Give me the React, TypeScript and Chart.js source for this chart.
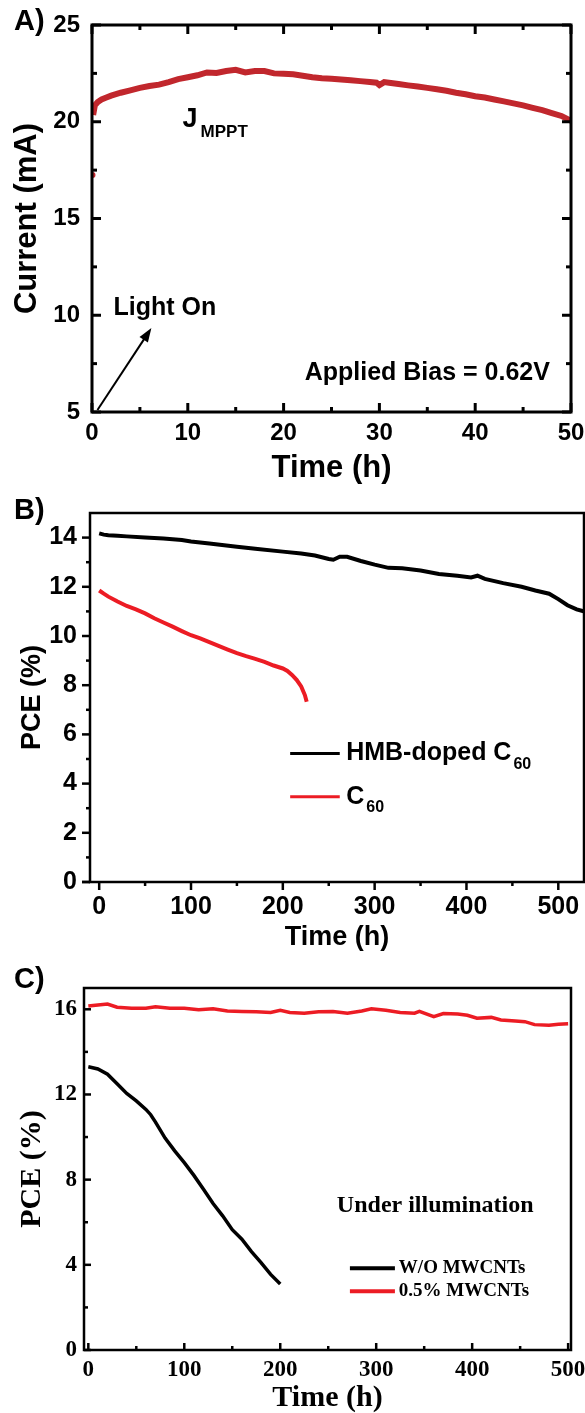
import React, { useEffect, useRef } from 'react';
import { Chart, registerables } from 'chart.js';

Chart.register(...registerables);

const SANS = '"Liberation Sans", Arial, sans-serif';
const SERIF = '"Liberation Serif", "Times New Roman", serif';

// ---------- Panel A : J_MPPT vs time ----------
const A_TIME = [0.05, 0.08, 0.12, 0.3, 0.6, 1, 1.5, 2, 3, 4, 5, 6, 7, 8, 9, 10, 11, 12, 13, 14, 15, 16, 17, 18, 19, 20, 21, 22, 23, 24, 25, 26, 27, 28, 29, 29.7, 30, 30.5, 31, 32, 33, 34, 35, 36, 37, 38, 39, 40, 41, 42, 43, 44, 45, 46, 47, 48, 49, 50];
const A_CURRENT = [17.25, null, 20.35, 20.85, 21.02, 21.15, 21.25, 21.35, 21.5, 21.62, 21.75, 21.85, 21.92, 22.05, 22.2, 22.3, 22.4, 22.55, 22.52, 22.62, 22.68, 22.55, 22.62, 22.62, 22.5, 22.48, 22.45, 22.38, 22.3, 22.25, 22.22, 22.18, 22.15, 22.1, 22.05, 22.02, 21.9, 22.05, 22.02, 21.95, 21.88, 21.82, 21.75, 21.68, 21.6, 21.5, 21.42, 21.32, 21.25, 21.15, 21.05, 20.95, 20.85, 20.72, 20.6, 20.45, 20.3, 20.05];
const A_X_TICKS = [0, 10, 20, 30, 40, 50];
const A_X_MINOR = [5, 15, 25, 35, 45];
const A_Y_TICKS = [5, 10, 15, 20, 25];
const A_Y_MINOR = [7.5, 12.5, 17.5, 22.5];

// ---------- Panel B : PCE, HMB-doped C60 vs C60 ----------
const B_TIME_HMB = [0, 5, 10, 20, 30, 50, 70, 90, 100, 120, 150, 170, 200, 220, 235, 250, 255, 262, 270, 285, 300, 315, 330, 350, 370, 390, 405, 412, 420, 440, 460, 475, 490, 500, 510, 520, 530];
const B_PCE_HMB = [14.17, 14.12, 14.1, 14.08, 14.05, 14.0, 13.96, 13.9, 13.84, 13.76, 13.63, 13.55, 13.43, 13.35, 13.27, 13.13, 13.1, 13.22, 13.22, 13.05, 12.9, 12.77, 12.75, 12.66, 12.52, 12.45, 12.38, 12.45, 12.32, 12.15, 12.0, 11.85, 11.72, 11.5, 11.25, 11.08, 10.98];
const B_TIME_C60 = [0, 5, 10, 20, 30, 40, 50, 60, 70, 80, 90, 100, 110, 120, 130, 140, 150, 160, 170, 180, 190, 200, 205, 210, 215, 220, 224, 226];
const B_PCE_C60 = [11.85, 11.72, 11.6, 11.4, 11.22, 11.08, 10.92, 10.72, 10.55, 10.38, 10.2, 10.03, 9.9, 9.75, 9.6, 9.45, 9.3, 9.18, 9.07, 8.95, 8.8, 8.68, 8.58, 8.42, 8.22, 7.95, 7.6, 7.33];
const B_X_TICKS = [0, 100, 200, 300, 400, 500];
const B_X_MINOR = [50, 150, 250, 350, 450];
const B_Y_TICKS = [0, 2, 4, 6, 8, 10, 12, 14];
const B_Y_MINOR = [1, 3, 5, 7, 9, 11, 13];

// ---------- Panel C : PCE with / without MWCNTs ----------
const C_TIME_WO = [0, 10, 20, 30, 40, 50, 60, 65, 70, 80, 90, 100, 110, 120, 130, 140, 150, 160, 170, 180, 190, 200];
const C_PCE_WO = [13.3, 13.2, 12.95, 12.5, 12.05, 11.7, 11.3, 11.05, 10.7, 9.95, 9.35, 8.8, 8.2, 7.55, 6.88, 6.3, 5.65, 5.2, 4.62, 4.1, 3.55, 3.1];
const C_TIME_MW = [0, 10, 20, 30, 45, 60, 70, 85, 100, 115, 130, 145, 160, 175, 190, 200, 210, 225, 240, 255, 270, 285, 295, 310, 325, 340, 345, 360, 370, 385, 395, 405, 420, 430, 445, 455, 465, 480, 490, 500];
const C_PCE_MW = [16.15, 16.2, 16.25, 16.1, 16.05, 16.05, 16.12, 16.05, 16.05, 15.98, 16.02, 15.92, 15.9, 15.88, 15.85, 15.95, 15.85, 15.82, 15.88, 15.9, 15.82, 15.92, 16.02, 15.95, 15.85, 15.82, 15.9, 15.65, 15.8, 15.78, 15.72, 15.58, 15.62, 15.5, 15.45, 15.42, 15.28, 15.25, 15.3, 15.32];
const C_X_TICKS = [0, 100, 200, 300, 400, 500];
const C_X_MINOR = [50, 150, 250, 350, 450];
const C_Y_TICKS = [0, 4, 8, 12, 16];
const C_Y_MINOR = [2, 6, 10, 14];

function zip(xs: number[], ys: (number | null)[]) {
  return xs.map((x, i) => ({ x, y: ys[i] }));
}

function font(family: string, size: number) {
  return { family, size, weight: 'bold' as const };
}

function axis(p: {
  min: number; max: number; major: number[]; fam: string; tickSize: number; tickPad: number;
  title: string; titleSize: number; titlePad: any; size: number; horizontal: boolean;
}) {
  return {
    type: 'linear',
    min: p.min,
    max: p.max,
    grid: { display: false, drawTicks: false },
    border: { display: false },
    ticks: {
      autoSkip: false, maxRotation: 0, minRotation: 0, includeBounds: false,
      padding: p.tickPad, color: '#000', font: font(p.fam, p.tickSize),
      callback: (v: any) => String(v),
    },
    afterBuildTicks: (s: any) => { s.ticks = p.major.map((v) => ({ value: v })); },
    title: { display: true, text: p.title, color: '#000', font: font(p.fam, p.titleSize), padding: p.titlePad },
    afterFit: (s: any) => {
      if (p.horizontal) s.height = p.size; else s.width = p.size;
      s.paddingLeft = 0; s.paddingRight = 0; s.paddingTop = 0; s.paddingBottom = 0;
    },
  };
}

function framePlugin(o: {
  xMajor: number[]; xMinor: number[]; yMajor: number[]; yMinor: number[];
  major: number; minor: number; inward: boolean; mirror: boolean; width: number; tickWidth: number; extendLeft?: number;
}) {
  return {
    id: 'frame',
    afterDatasetsDraw(chart: any) {
      const { ctx, chartArea } = chart;
      const { left, right, top, bottom } = chartArea;
      const xs = chart.scales.x;
      const ys = chart.scales.y;
      const d = o.inward ? -1 : 1;
      ctx.save();
      ctx.strokeStyle = '#000';
      ctx.lineWidth = o.width;
      ctx.strokeRect(left, top, right - left, bottom - top);
      const seg = (x1: number, y1: number, x2: number, y2: number) => {
        ctx.beginPath(); ctx.moveTo(x1, y1); ctx.lineTo(x2, y2); ctx.stroke();
      };
      if (o.extendLeft) seg(left - o.extendLeft, bottom, left, bottom);
      ctx.lineWidth = o.tickWidth;
      const xt = (v: number, len: number) => {
        const p = xs.getPixelForValue(v);
        seg(p, bottom, p, bottom + d * len);
        if (o.mirror) seg(p, top, p, top - d * len);
      };
      const yt = (v: number, len: number) => {
        const p = ys.getPixelForValue(v);
        seg(left, p, left - d * len, p);
        if (o.mirror) seg(right, p, right + d * len, p);
      };
      o.xMajor.forEach((v) => xt(v, o.major));
      o.xMinor.forEach((v) => xt(v, o.minor));
      o.yMajor.forEach((v) => yt(v, o.major));
      o.yMinor.forEach((v) => yt(v, o.minor));
      ctx.restore();
    },
  };
}

function text(ctx: any, s: string, x: number, y: number, f: string, align: string = 'left', color = '#000') {
  ctx.font = f;
  ctx.textAlign = align;
  ctx.textBaseline = 'middle';
  ctx.fillStyle = color;
  ctx.fillText(s, x, y);
  return ctx.measureText(s).width;
}

function px(chart: any, x: number, y: number) {
  return [chart.scales.x.getPixelForValue(x), chart.scales.y.getPixelForValue(y)];
}

const baseOptions = (padding: any) => ({
  responsive: false,
  animation: false as const,
  events: [] as any[],
  layout: { padding },
  plugins: { legend: { display: false }, tooltip: { enabled: false } },
});

function configA(): any {
  const notes = {
    id: 'notesA',
    afterDraw(chart: any) {
      const ctx = chart.ctx;
      ctx.save();
      text(ctx, 'A)', 14, 22, `bold 29px ${SANS}`);
      let [x, y] = px(chart, 9.45, 20.1);
      const w = text(ctx, 'J', x, y, `bold 27px ${SANS}`);
      text(ctx, 'MPPT', x + w + 3, y + 12, `bold 17px ${SANS}`);
      [x, y] = px(chart, 2.25, 10.37);
      text(ctx, 'Light On', x, y, `bold 25px ${SANS}`);
      [x, y] = px(chart, 47.8, 7.02);
      text(ctx, 'Applied Bias = 0.62V', x, y, `bold 25px ${SANS}`, 'right');
      const [x1, y1] = px(chart, 0.57, 5.1);
      const [x2, y2] = px(chart, 6.2, 9.34);
      const ang = Math.atan2(y2 - y1, x2 - x1);
      ctx.strokeStyle = '#000';
      ctx.fillStyle = '#000';
      ctx.lineWidth = 2;
      ctx.beginPath();
      ctx.moveTo(x1, y1);
      ctx.lineTo(x2 - 10 * Math.cos(ang), y2 - 10 * Math.sin(ang));
      ctx.stroke();
      ctx.beginPath();
      ctx.moveTo(x2, y2);
      ctx.lineTo(x2 - 14 * Math.cos(ang) + 5 * Math.sin(ang), y2 - 14 * Math.sin(ang) - 5 * Math.cos(ang));
      ctx.lineTo(x2 - 14 * Math.cos(ang) - 5 * Math.sin(ang), y2 - 14 * Math.sin(ang) + 5 * Math.cos(ang));
      ctx.closePath();
      ctx.fill();
      ctx.restore();
    },
  };
  const data = zip(A_TIME, A_CURRENT);
  return {
    type: 'scatter',
    data: {
      datasets: [
        {
          label: 'J_MPPT', data, showLine: true, spanGaps: false, borderColor: '#c1272d', borderWidth: 6,
          pointRadius: (c: any) => (c.dataIndex === 0 ? 3 : 0), pointBackgroundColor: '#c1272d', pointBorderWidth: 0,
        },
        { label: 'J_MPPT inner', data, showLine: true, spanGaps: false, borderColor: '#dc5a5e', borderWidth: 1.5, pointRadius: 0 },
      ],
    },
    options: {
      ...baseOptions({ left: 0, top: 25, right: 14, bottom: 0 }),
      scales: {
        x: axis({ min: 0, max: 50, major: A_X_TICKS, fam: SANS, tickSize: 24, tickPad: 7, title: 'Time (h)', titleSize: 31, titlePad: { top: 0, bottom: 13 }, size: 88, horizontal: true }),
        y: axis({ min: 5, max: 25, major: A_Y_TICKS, fam: SANS, tickSize: 24, tickPad: 12, title: 'Current (mA)', titleSize: 31, titlePad: { top: 9, bottom: 0 }, size: 92, horizontal: false }),
      },
    },
    plugins: [
      framePlugin({ xMajor: A_X_TICKS, xMinor: A_X_MINOR, yMajor: A_Y_TICKS, yMinor: A_Y_MINOR, major: 9, minor: 5, inward: true, mirror: true, width: 3, tickWidth: 3 }),
      notes,
    ],
  };
}

function configB(): any {
  const notes = {
    id: 'notesB',
    afterDraw(chart: any) {
      const ctx = chart.ctx;
      ctx.save();
      text(ctx, 'B)', 14, 31, `bold 29px ${SANS}`);
      const legend = [
        { y: 5.22, color: '#000', main: 'HMB-doped C', sub: '60' },
        { y: 3.47, color: '#ec1c24', main: 'C', sub: '60' },
      ];
      legend.forEach((l) => {
        const [a, yy] = px(chart, 208, l.y);
        const [b] = px(chart, 262, l.y);
        ctx.strokeStyle = l.color;
        ctx.lineWidth = 3;
        ctx.beginPath(); ctx.moveTo(a, yy); ctx.lineTo(b, yy); ctx.stroke();
        const [tx] = px(chart, 269, l.y);
        const w = text(ctx, l.main, tx, yy, `bold 25px ${SANS}`);
        text(ctx, l.sub, tx + w + 2, yy + 11, `bold 16px ${SANS}`);
      });
      ctx.restore();
    },
  };
  return {
    type: 'scatter',
    data: {
      datasets: [
        { label: 'HMB-doped C60', data: zip(B_TIME_HMB, B_PCE_HMB), showLine: true, borderColor: '#000', borderWidth: 4, pointRadius: 0 },
        { label: 'C60', data: zip(B_TIME_C60, B_PCE_C60), showLine: true, borderColor: '#ec1c24', borderWidth: 4, pointRadius: 0 },
      ],
    },
    options: {
      ...baseOptions({ left: 0, top: 33, right: 1, bottom: 0 }),
      scales: {
        x: axis({ min: -10, max: 528, major: B_X_TICKS, fam: SANS, tickSize: 25, tickPad: 10, title: 'Time (h)', titleSize: 27, titlePad: { top: 0, bottom: 6 }, size: 78, horizontal: true }),
        y: axis({ min: 0, max: 15, major: B_Y_TICKS, fam: SANS, tickSize: 25, tickPad: 13, title: 'PCE (%)', titleSize: 27, titlePad: { top: 16, bottom: 0 }, size: 90, horizontal: false }),
      },
    },
    plugins: [
      framePlugin({ xMajor: B_X_TICKS, xMinor: B_X_MINOR, yMajor: B_Y_TICKS, yMinor: B_Y_MINOR, major: 8, minor: 4, inward: false, mirror: false, width: 2.5, tickWidth: 2.5, extendLeft: 8 }),
      notes,
    ],
  };
}

function configC(): any {
  const notes = {
    id: 'notesC',
    afterDraw(chart: any) {
      const ctx = chart.ctx;
      ctx.save();
      text(ctx, 'C)', 14, 40, `bold 29px ${SANS}`);
      let [x, y] = px(chart, 259, 6.78);
      text(ctx, 'Under illumination', x, y, `bold 24px ${SERIF}`);
      const legend = [
        { y: 3.84, color: '#000', label: 'W/O MWCNTs' },
        { y: 2.76, color: '#ec1c24', label: '0.5% MWCNTs' },
      ];
      legend.forEach((l) => {
        const [a, yy] = px(chart, 272.6, l.y);
        const [b] = px(chart, 319.5, l.y);
        ctx.strokeStyle = l.color;
        ctx.lineWidth = 4;
        ctx.beginPath(); ctx.moveTo(a, yy); ctx.lineTo(b, yy); ctx.stroke();
        const [tx] = px(chart, 323.6, l.y);
        text(ctx, l.label, tx, yy, `bold 19px ${SERIF}`);
      });
      ctx.restore();
    },
  };
  return {
    type: 'scatter',
    data: {
      datasets: [
        { label: 'W/O MWCNTs', data: zip(C_TIME_WO, C_PCE_WO), showLine: true, borderColor: '#000', borderWidth: 3.5, pointRadius: 0 },
        { label: '0.5% MWCNTs', data: zip(C_TIME_MW, C_PCE_MW), showLine: true, borderColor: '#ec1c24', borderWidth: 3.5, pointRadius: 0 },
      ],
    },
    options: {
      ...baseOptions({ left: 0, top: 48, right: 14, bottom: 0 }),
      scales: {
        x: axis({ min: -4.5, max: 503, major: C_X_TICKS, fam: SERIF, tickSize: 23, tickPad: 6, title: 'Time (h)', titleSize: 30, titlePad: { top: 0, bottom: -3 }, size: 63, horizontal: true }),
        y: axis({ min: 0, max: 17, major: C_Y_TICKS, fam: SERIF, tickSize: 23, tickPad: 7, title: 'PCE (%)', titleSize: 30, titlePad: { top: 14, bottom: 0 }, size: 84, horizontal: false }),
      },
    },
    plugins: [
      framePlugin({ xMajor: C_X_TICKS, xMinor: C_X_MINOR, yMajor: C_Y_TICKS, yMinor: C_Y_MINOR, major: 7, minor: 4, inward: true, mirror: false, width: 2.5, tickWidth: 2.5 }),
      notes,
    ],
  };
}

export default function App() {
  const refA = useRef<HTMLCanvasElement>(null);
  const refB = useRef<HTMLCanvasElement>(null);
  const refC = useRef<HTMLCanvasElement>(null);

  useEffect(() => {
    const charts = [
      new Chart(refA.current!, configA()),
      new Chart(refB.current!, configB()),
      new Chart(refC.current!, configC()),
    ];
    return () => charts.forEach((c) => c.destroy());
  }, []);

  const cs = (top: number, h: number): React.CSSProperties => ({ position: 'absolute', left: 0, top, width: 585, height: h, display: 'block' });

  return (
    <div style={{ position: 'absolute', left: 0, top: 0, width: 585, height: 1413, background: '#fff', overflow: 'hidden' }}>
      <canvas ref={refA} width={585} height={500} style={cs(0, 500)} />
      <canvas ref={refB} width={585} height={480} style={cs(480, 480)} />
      <canvas ref={refC} width={585} height={473} style={cs(940, 473)} />
    </div>
  );
}
